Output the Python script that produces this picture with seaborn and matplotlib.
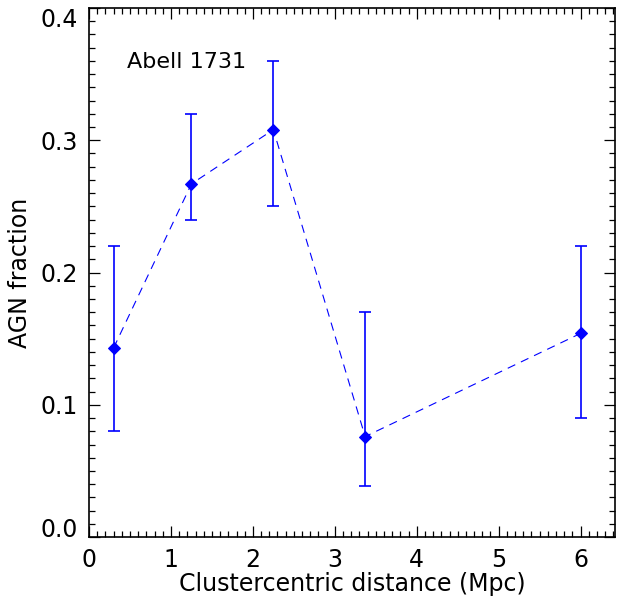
import pandas as pd
import seaborn as sns
import matplotlib.pyplot as plt
import numpy as np

# AGN fraction vs clustercentric distance, Abell 1731
distance = [0.30, 1.25, 2.25, 3.37, 6.00]
agn_frac = [0.143, 0.267, 0.308, 0.076, 0.154]
err_low = [0.080, 0.240, 0.250, 0.039, 0.090]
err_high = [0.220, 0.320, 0.360, 0.170, 0.220]
cluster_name = "Abell 1731"

df = pd.DataFrame({'dist': distance, 'frac': agn_frac, 'lo': err_low, 'hi': err_high})

sns.set_style("ticks")
plt.rcParams['font.family'] = ['DejaVu Sans']
plt.rcParams['lines.scale_dashes'] = False
plt.rcParams['text.color'] = 'black'
plt.rcParams['axes.labelcolor'] = 'black'
plt.rcParams['xtick.color'] = 'black'
plt.rcParams['ytick.color'] = 'black'

fig = plt.figure(figsize=(6.23, 6.09), dpi=100)
ax = fig.add_axes([0.1429, 0.118, 0.9872 - 0.1429, 0.987 - 0.118])

yerr = np.array([df['frac'] - df['lo'], df['hi'] - df['frac']])
ax.errorbar(df['dist'], df['frac'], yerr=yerr, fmt='none', ecolor='blue',
            elinewidth=1.2, capsize=4.2, capthick=1.2)
sns.lineplot(data=df, x='dist', y='frac', ax=ax, color='blue', linewidth=0.8,
             linestyle=(0, (6, 4.5)), marker='D', markersize=6.5,
             markeredgecolor='blue', errorbar=None)

ax.text(0.46, 0.359, cluster_name, fontsize=16, va='center', ha='left')

ax.set_xlim(0, 6.42)
ax.set_ylim(0, 0.4)
ax.set_xticks(np.arange(0, 7, 1))
ax.set_xticks(np.arange(0, 6.45, 0.1), minor=True)
ax.set_yticks(np.arange(0, 0.41, 0.1))
ax.set_yticks(np.arange(0, 0.401, 0.01), minor=True)
ax.set_yticklabels(['0.0', '0.1', '0.2', '0.3', '0.4'])
ax.tick_params(which='both', direction='in', top=True, right=True, color='black', width=0.9)
ax.tick_params(which='major', length=8, labelsize=17, pad=8)
ax.tick_params(which='minor', length=4)
ylabels = ax.get_yticklabels()
ylabels[0].set_va('baseline')
ylabels[-1].set_va('top')
for s in ax.spines.values():
    s.set_visible(True)
    s.set_linewidth(1.2)
    s.set_color('black')

ax.set_xlabel('Clustercentric distance (Mpc)', fontsize=17, labelpad=0)
ax.set_ylabel('AGN fraction', fontsize=17, labelpad=6)

fig.savefig('out.png', dpi=100)
